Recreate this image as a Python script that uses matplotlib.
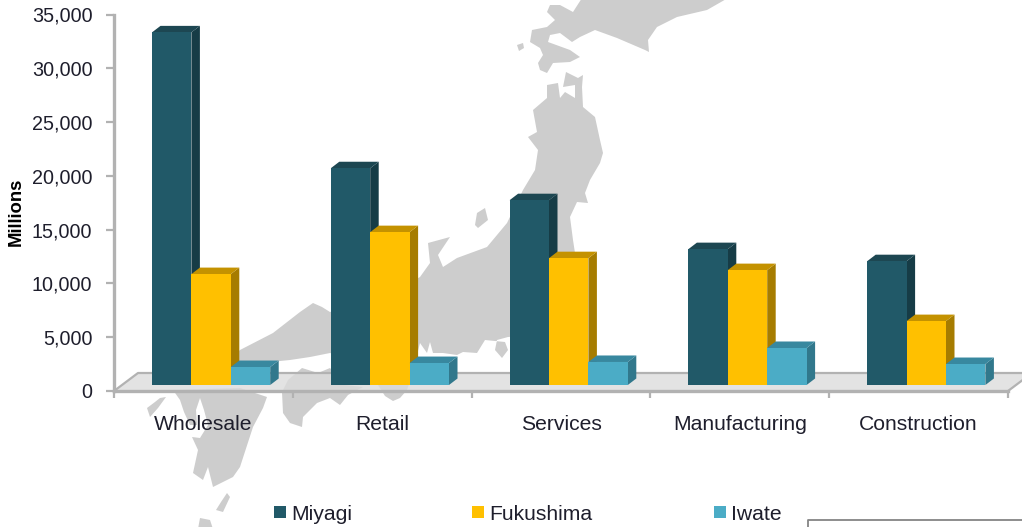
# -*- coding: utf-8 -*-
"""
3D looking bars of damage by sector, with a map of Japan behind them
"""
import matplotlib
matplotlib.use('Agg')
import matplotlib.pyplot as plt
import numpy as np

plt.rcParams['font.family'] = ['Liberation Sans', 'DejaVu Sans']

categories = ['Wholesale', 'Retail', 'Services', 'Manufacturing', 'Construction']
miyagi = [32780, 20150, 17180, 12630, 11510]
fukushima = [10310, 14210, 11790, 10680, 5940]
iwate = [1670, 2040, 2140, 3440, 1950]
series_names = ['Miyagi', 'Fukushima', 'Iwate']
yticks = [0, 5000, 10000, 15000, 20000, 25000, 30000, 35000]

#front, side, top
colors = [('#215968', '#163C46', '#1D4752'),
          ('#FFC000', '#A67C00', '#C49200'),
          ('#4BACC6', '#31788C', '#38889F')]
text_col = '#1E1E2C'
axis_col = '#B2B2B2'
map_col = '#CDCDCD'

'''----map outline, picture pixels----'''
hokkaido = [(582,-2),(728,-2),(707,10),(677,17),(657,27),(648,40),(649,52),(645,50),(617,38),
            (595,30),(580,37),(572,42),(560,33),(550,35),(548,42),(570,50),(580,57),(570,62),
            (553,63),(547,73),(540,70),(538,63),(543,55),(540,48),(530,42),(532,30),(547,27),
            (555,20),(547,12),(550,5),(560,5),(573,12)]
honshu = [(566,72),(578,78),(583,75),(582,87),(583,107),(595,117),(600,140),(603,153),(600,163),
          (590,180),(585,193),(588,203),(577,202),(570,217),(573,240),(575,253),(578,300),(540,335),
          (508,337),(497,340),(495,350),(502,358),(508,350),(505,342),(485,340),(477,353),(463,352),
          (457,355),(443,353),(433,353),(430,342),(427,353),(420,343),(412,375),(407,390),(400,398),
          (393,401),(385,396),(378,385),(370,365),(330,353),(310,357),(290,360),(270,362),(245,368),
          (232,372),(232,358),(240,350),(273,333),(300,312),(313,303),(322,307),(330,312),(380,300),
          (420,277),(430,263),(428,243),(450,237),(438,255),(443,267),(457,258),(487,247),(507,223),
          (523,190),(535,170),(538,150),(528,137),(537,132),(533,110),(547,98),(547,85),(558,83),
          (560,98),(565,92),(575,98),(575,85),(563,87)]
kyushu = [(173,390),(240,388),(267,397),(263,408),(253,427),(240,467),(233,477),(213,487),(208,467),
          (203,480),(193,473),(198,450),(192,437),(200,438),(208,425),(204,410),(200,398),(196,410),
          (197,425),(190,425),(184,412),(180,400)]
shikoku = [(282,392),(288,380),(302,368),(318,373),(330,368),(345,385),(363,387),(348,395),(340,405),
           (330,398),(317,403),(303,417),(302,427),(290,423),(283,413)]
islands = [[(477,213),(485,208),(488,220),(478,228),(475,225)],
           [(517,45),(523,43),(524,48),(519,51)],
           [(227,493),(230,497),(223,512),(216,510),(221,502)],
           [(200,518),(210,520),(213,529),(198,529)],
           [(147,408),(155,402),(160,398),(166,397),(158,408),(150,417)]]

fig = plt.figure(figsize=(10.22, 5.27), dpi=100)

# background axes is in pixels, just for the map and the stray box
bg = fig.add_axes([0, 0, 1, 1])
bg.set_xlim(0, 1022)
bg.set_ylim(527, 0)
bg.axis('off')
for poly in [hokkaido, honshu, kyushu, shikoku] + islands:
    pts = np.array(poly)
    bg.fill(pts[:, 0], pts[:, 1], color=map_col, lw=0)
bg.plot([808, 808, 1030], [530, 519.5, 519.5], color='#858585', lw=1.3)

ax = fig.add_axes([114/1022, (527-391)/527, (1008-114)/1022, (391-14.5)/527])
ax.patch.set_alpha(0)
ax.set_xlim(0, 5)
ax.set_ylim(0, 35000)

# pixel sizes into data units
xu = 5/(1008-114)
yu = 35000/(391-14.5)
dx = 8.5*xu      # bar depth
dy = 6.5*yu
floor_dx = 24*xu
floor_dy = 18*yu
base = 6*yu    # bars stand a bit behind the front edge

'''----floor----'''
ax.fill([0, 5, 5+floor_dx, floor_dx], [0, 0, floor_dy, floor_dy], color='#DCDCDC', alpha=0.8,
        lw=0, clip_on=False, zorder=1)
ax.plot([0, floor_dx, 5+floor_dx], [0, floor_dy, floor_dy], color=axis_col, lw=1.6,
        clip_on=False, zorder=1.5)
ax.plot([5, 5+floor_dx], [0, floor_dy], color=axis_col, lw=1.6, clip_on=False, zorder=1.5)

'''----bars----'''
bar_w = 39.4*xu
start = 38*xu
values = [miyagi, fukushima, iwate]
x = np.arange(len(categories))
for s in range(3):
    left = x + start + s*bar_w
    front, side, top = colors[s]
    z = 2 + s
    ax.bar(left, values[s], width=bar_w, bottom=base, align='edge', color=front, lw=0, zorder=z+0.2)
    for l, v in zip(left, values[s]):
        t = base + v
        r = l + bar_w
        ax.fill([r, r+dx, r+dx, r], [base, base+dy, t+dy, t], color=side, lw=0, zorder=z, clip_on=False)
        ax.fill([l, l+dx, r+dx, r], [t, t+dy, t+dy, t], color=top, lw=0, zorder=z, clip_on=False)

'''----axes----'''
for k in ['top', 'right']:
    ax.spines[k].set_visible(False)
for k in ['left', 'bottom']:
    ax.spines[k].set_color(axis_col)
    ax.spines[k].set_linewidth(2.4)
    ax.spines[k].set_zorder(6)
ax.set_yticks(yticks)
ax.set_yticklabels([f'{v:,}' for v in yticks], fontsize=14.2, color=text_col)
ax.set_xticks(np.arange(6))
ax.set_xticklabels([])
ax.tick_params(axis='y', length=5.5, width=1.6, color=axis_col, pad=10)
ax.tick_params(axis='x', length=5, width=1.6, color=axis_col)
for i, c in enumerate(categories):
    ax.annotate(c, (i+0.5, 0), xytext=(0, -33), textcoords='offset pixels', ha='center', va='center',
                fontsize=15.2, color=text_col, annotation_clip=False)
fig.text(16/1022, 1-212/527, 'Millions', rotation=90, ha='center', va='center', fontsize=13.3,
         fontweight='bold', color='black')

'''----legend, spaced unevenly in the original so placed one by one----'''
legend_x = [274, 472, 714]
for name, lx, col in zip(series_names, legend_x, colors):
    bg.fill([lx, lx+12, lx+12, lx], [506, 506, 518, 518], color=col[0], lw=0)
    bg.text(lx+17, 515, name, ha='left', va='center', fontsize=15.2, color=text_col)

fig.savefig('out.png', dpi=100)
